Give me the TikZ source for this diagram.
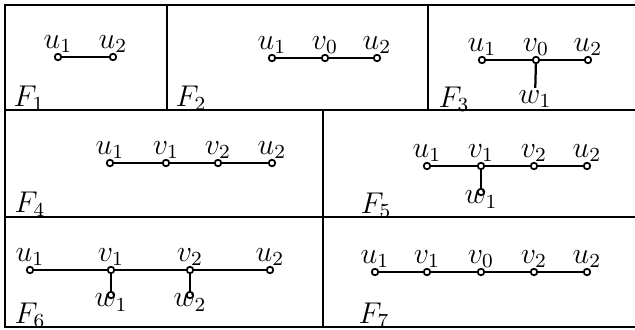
\documentclass[tikz,border=0pt]{standalone}
\begin{document}
\begin{tikzpicture}[x=0.4pt, y=-0.4pt, line width=0.9pt, font=\fontsize{11.5}{13}\selectfont,
    vtx/.style={circle, draw, fill=white, line width=0.7pt, inner sep=0pt, minimum size=2.6pt},
    up/.style={label={[inner sep=0.5pt, label distance=-0.8pt]above:#1}},
    down/.style={label={[inner sep=0.5pt, label distance=-3pt]below:#1}}]
    \useasboundingbox (0,0) rectangle (635,329);
    % frame, open on the right as in the scan
    \draw (635,5) -- (5,5) -- (5,327) -- (635,327);
    \draw (5,110) -- (635,110);
    \draw (5,217) -- (635,217);
    \draw (167,5) -- (167,110);
    \draw (428,5) -- (428,110);
    \draw (323,110) -- (323,327);
    % F1
    \node[vtx, up=$u_1$] (a1) at (58,57) {};
    \node[vtx, up=$u_2$] (a2) at (113,57) {};
    \draw (a1) -- (a2);
    \node (fa) at (29,98) {$F_1$};
    % F2
    \node[vtx, up=$u_1$] (b1) at (272,58) {};
    \node[vtx, up=$v_0$] (b0) at (325,58) {};
    \node[vtx, up=$u_2$] (b2) at (377,58) {};
    \draw (b1) -- (b0) -- (b2);
    \node (fb) at (191,98) {$F_2$};
    % F3
    \node[vtx, up=$u_1$] (c1) at (482,60) {};
    \node[vtx, up=$v_0$] (c0) at (536,60) {};
    \node[vtx, up=$u_2$] (c2) at (588,60) {};
    \node[inner sep=0.5pt] (cw) at (535,99) {$w_1$};
    \draw (c1) -- (c0) -- (c2);
    \draw (c0) -- (cw);
    \node (fc) at (454,99) {$F_3$};
    % F4
    \node[vtx, up=$u_1$] (d1) at (110,163) {};
    \node[vtx, up=$v_1$] (dv1) at (166,163) {};
    \node[vtx, up=$v_2$] (dv2) at (218,163) {};
    \node[vtx, up=$u_2$] (d2) at (272,163) {};
    \draw (d1) -- (dv1) -- (dv2) -- (d2);
    \node (fd) at (30,204) {$F_4$};
    % F5
    \node[vtx, up=$u_1$] (e1) at (427,166) {};
    \node[vtx, up=$v_1$] (ev1) at (481,166) {};
    \node[vtx, up=$v_2$] (ev2) at (534,166) {};
    \node[vtx, up=$u_2$] (e2) at (587,166) {};
    \node[vtx, down=$w_1$] (ew1) at (481,192) {};
    \draw (e1) -- (ev1) -- (ev2) -- (e2);
    \draw (ev1) -- (ew1);
    \node (fe) at (376,205) {$F_5$};
    % F6
    \node[vtx, up=$u_1$] (g1) at (30,270) {};
    \node[vtx, up=$v_1$] (gv1) at (111,270) {};
    \node[vtx, up=$v_2$] (gv2) at (190,270) {};
    \node[vtx, up=$u_2$] (g2) at (270,270) {};
    \node[vtx, down=$w_1$] (gw1) at (111,295) {};
    \node[vtx, down=$w_2$] (gw2) at (190,295) {};
    \draw (g1) -- (gv1) -- (gv2) -- (g2);
    \draw (gv1) -- (gw1);
    \draw (gv2) -- (gw2);
    \node (fg) at (30,315) {$F_6$};
    % F7
    \node[vtx, up=$u_1$] (h1) at (375,272) {};
    \node[vtx, up=$v_1$] (hv1) at (427,272) {};
    \node[vtx, up=$v_0$] (h0) at (481,272) {};
    \node[vtx, up=$v_2$] (hv2) at (534,272) {};
    \node[vtx, up=$u_2$] (h2) at (587,272) {};
    \draw (h1) -- (hv1) -- (h0) -- (hv2) -- (h2);
    \node (fh) at (374,315) {$F_7$};
\end{tikzpicture}
\end{document}
